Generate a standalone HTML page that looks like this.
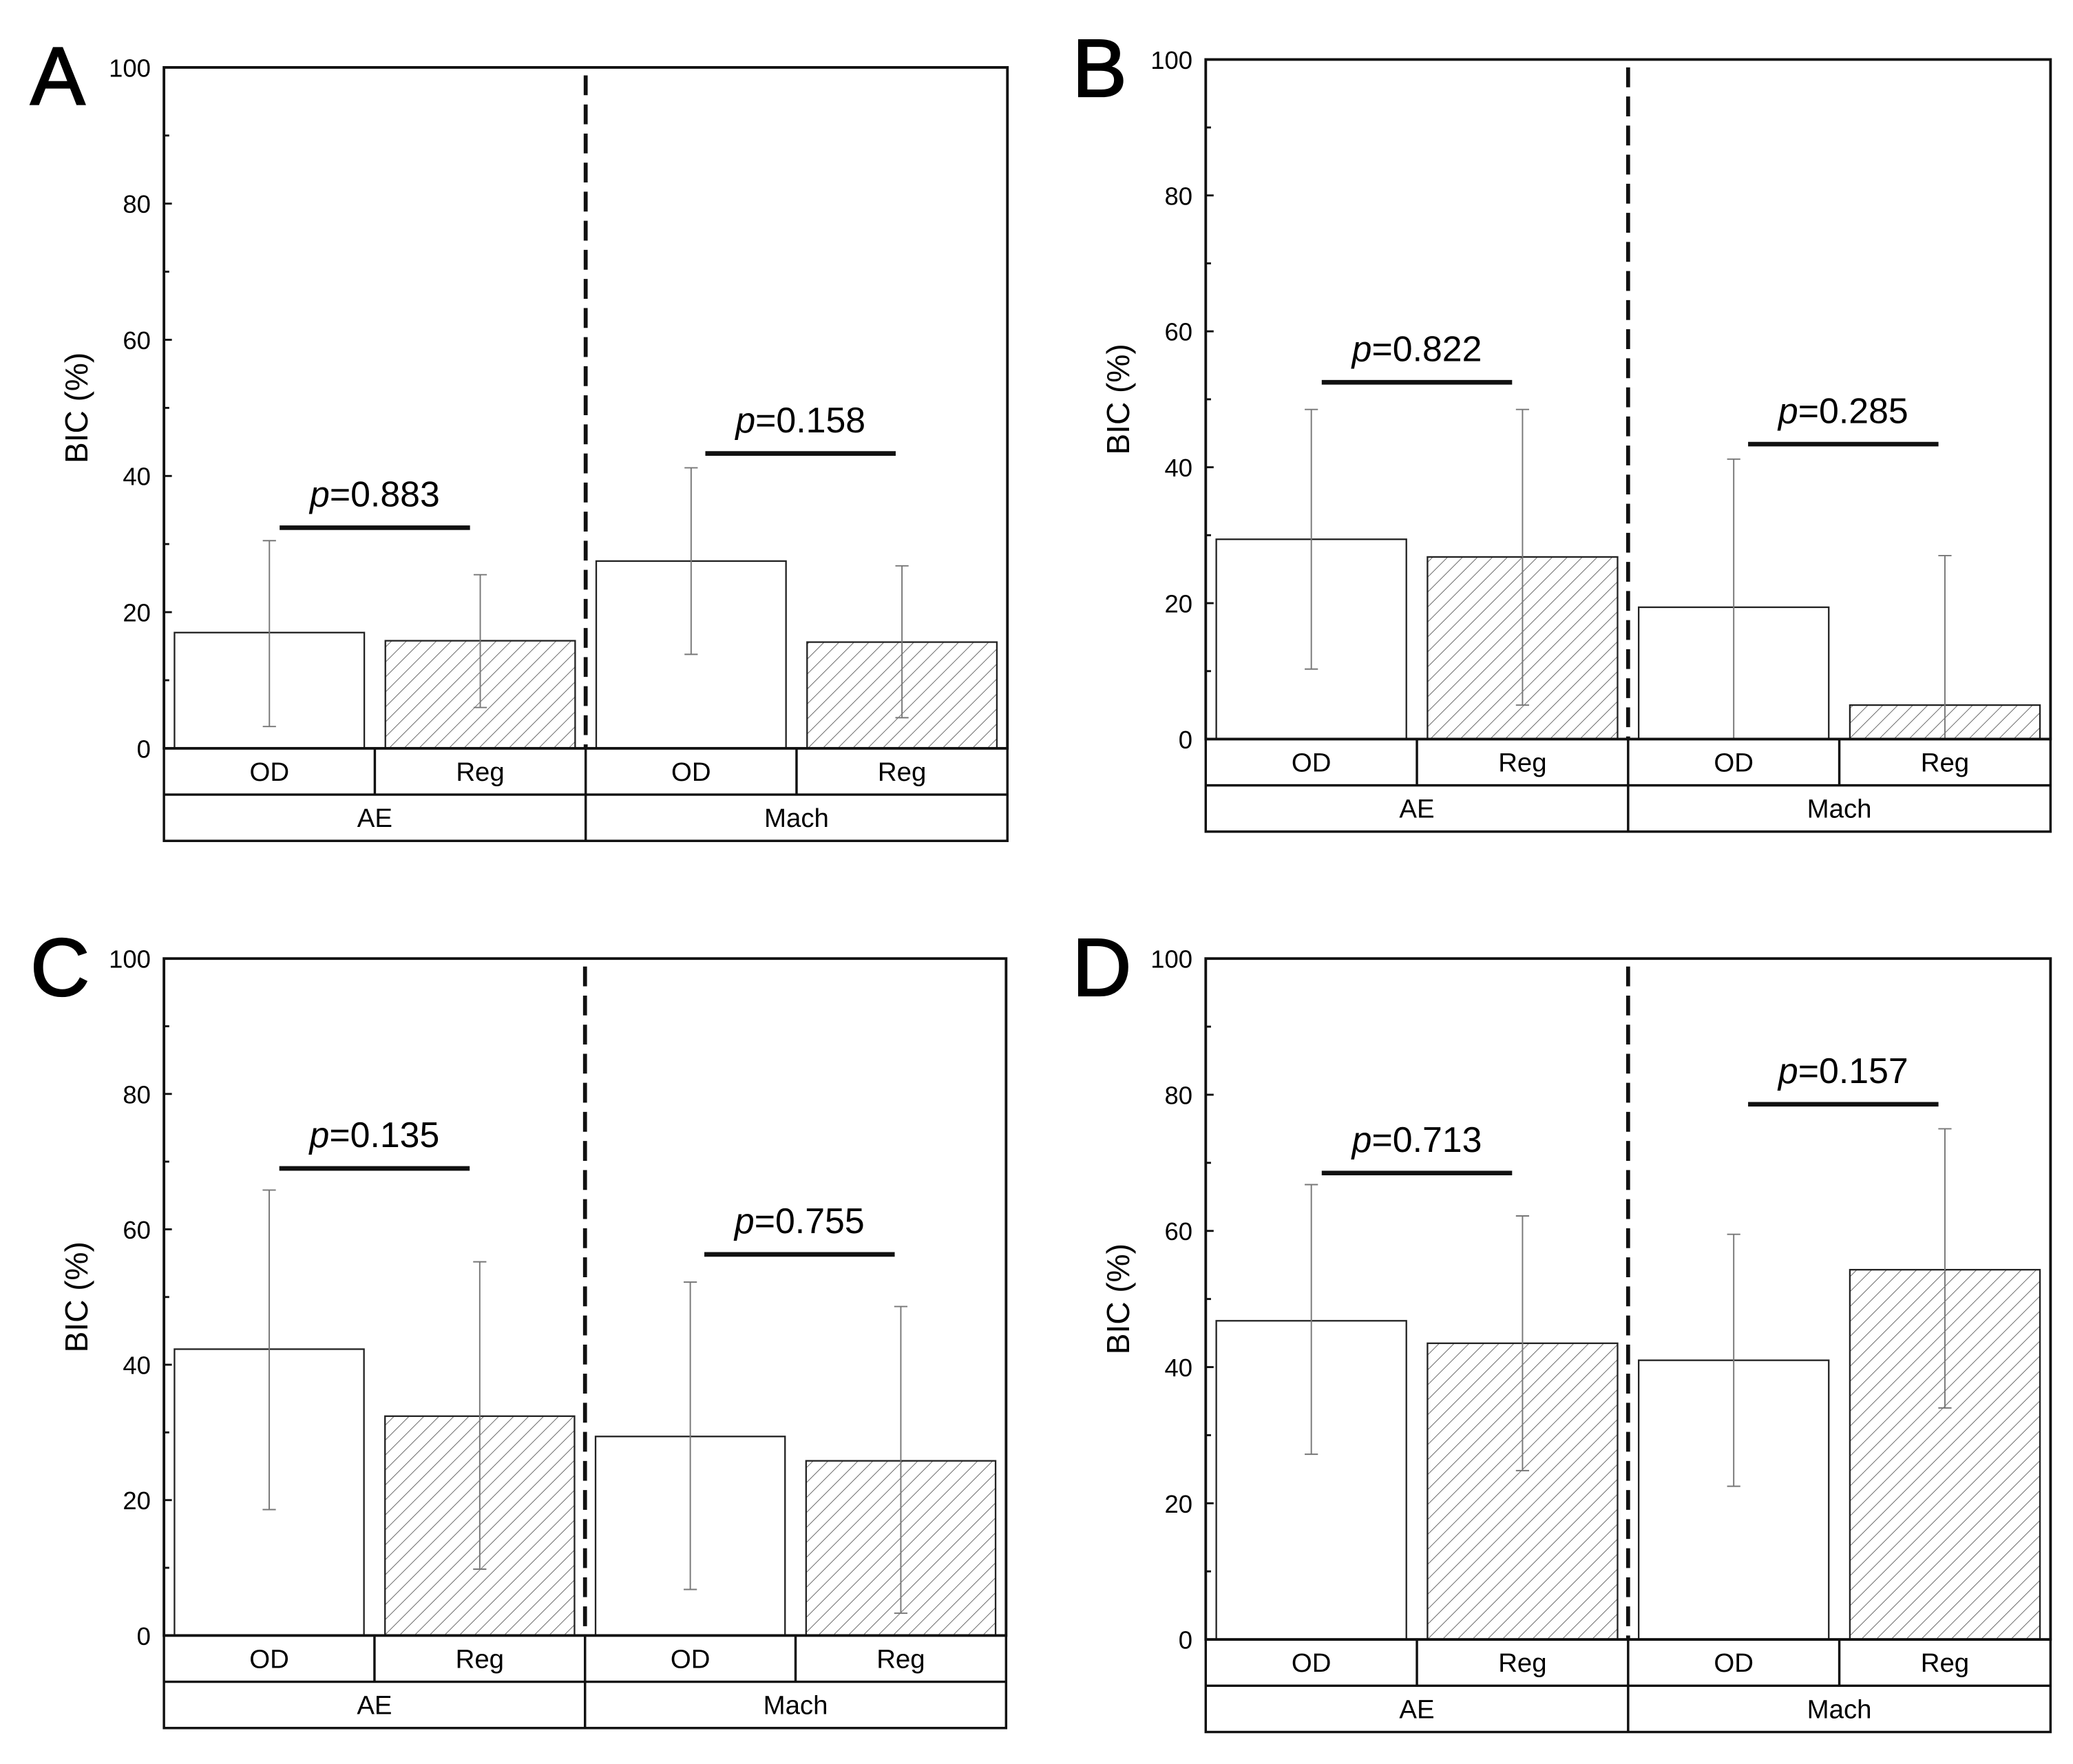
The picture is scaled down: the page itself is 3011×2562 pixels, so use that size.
<!DOCTYPE html>
<html><head><meta charset="utf-8"><style>
html,body{margin:0;padding:0;background:#fff;}
svg{display:block;font-family:"Liberation Sans",Arial,sans-serif;}
</style></head><body>
<svg id="fig" width="3011" height="2562" viewBox="0 0 1568 1334.2" xmlns="http://www.w3.org/2000/svg">
<defs>
<pattern id="hatch" patternUnits="userSpaceOnUse" width="8" height="8" patternTransform="rotate(45)">
<line x1="0" y1="0" x2="0" y2="8" stroke="#666" stroke-width="1"/>
</pattern>
</defs>
</svg>
<script>
// Data per panel
const panelLetters = ["A","B","C","D"];
const categories = ["OD","Reg","OD","Reg"];
const groups = ["AE","Mach"];
const yTicks = [0,20,40,60,80,100];
const meansA = [17.0,15.8,27.5,15.6];
const lowA = [3.2,6.0,13.8,4.5];
const highA = [30.5,25.5,41.2,26.8];
const meansB = [29.4,26.8,19.4,5.0];
const lowB = [10.3,5.0,0,0];
const highB = [48.5,48.5,41.2,27.0];
const meansC = [42.3,32.4,29.4,25.8];
const lowC = [18.6,9.8,6.8,3.3];
const highC = [65.8,55.2,52.2,48.6];
const meansD = [46.8,43.5,41.0,54.3];
const lowD = [27.2,24.8,22.5,34.0];
const highD = [66.8,62.2,59.5,75.0];
const pTexts = [["0.883","0.158"],["0.822","0.285"],["0.135","0.755"],["0.713","0.157"]];
const pLevels = [[32.4,43.3],[52.5,43.4],[69.0,56.3],[68.5,78.6]];

const layout = [
 {L:124,R:762,T:51,Y0:566,r1:601,r2:636},
 {L:912,R:1551,T:45,Y0:559,r1:594,r2:629},
 {L:124,R:761,T:725,Y0:1237,r1:1272,r2:1307},
 {L:912,R:1551,T:725,Y0:1240,r1:1275,r2:1310}
];
const means=[meansA,meansB,meansC,meansD], lows=[lowA,lowB,lowC,lowD], highs=[highA,highB,highC,highD];
const svg=document.getElementById('fig');
const NS="http://www.w3.org/2000/svg";
function mk(tag,attrs,parent){const e=document.createElementNS(NS,tag);for(const k in attrs)e.setAttribute(k,attrs[k]);(parent||svg).appendChild(e);return e;}

layout.forEach((P,pi)=>{
 const g=mk('g',{});
 
 
 const y=v=>P.Y0-(v/100)*(P.Y0-P.T);
 const q=(P.R-P.L)/4;
 const cx=i=>P.L+q*(i+0.5);
 const bw=q*0.9;
 // panel letter
 const lt=mk('text',{x:P.L-101,y:P.T+28,'font-size':62,'stroke':'#000','stroke-width':1.2},g);lt.textContent=panelLetters[pi];
 
 
 // bars
 means[pi].forEach((m,i)=>{
  const r=mk('rect',{x:cx(i)-bw/2,y:y(m),width:bw,height:P.Y0-y(m),fill:i%2?'url(#hatch)':'#fff',stroke:'#222','stroke-width':1.2},g);
  
  
 });
 // error bars
 means[pi].forEach((m,i)=>{
  const eg=mk('g',{stroke:'#777','stroke-width':1},g);
  
  
  mk('line',{x1:cx(i),x2:cx(i),y1:y(lows[pi][i]),y2:y(highs[pi][i])},eg);
  mk('line',{x1:cx(i)-5,x2:cx(i)+5,y1:y(lows[pi][i]),y2:y(lows[pi][i])},eg);
  mk('line',{x1:cx(i)-5,x2:cx(i)+5,y1:y(highs[pi][i]),y2:y(highs[pi][i])},eg);
 });
 // frame
 const fr=mk('rect',{x:P.L,y:P.T,width:P.R-P.L,height:P.Y0-P.T,fill:'none',stroke:'#111','stroke-width':2},g);
 
 
 // divider
 const mid=(P.L+P.R)/2;
 const dv=mk('line',{x1:mid,x2:mid,y1:P.T+6,y2:P.Y0,stroke:'#111','stroke-width':3,'stroke-dasharray':'15 7'},g);
 
 
 // y ticks
 yTicks.forEach(t=>{
  mk('line',{x1:P.L,x2:P.L+6,y1:y(t),y2:y(t),stroke:'#111','stroke-width':1.5},g);
  const tx=mk('text',{x:P.L-10,y:y(t)+7,'font-size':19,'text-anchor':'end'},g);tx.textContent=t;
  
  
  if(t<100) mk('line',{x1:P.L,x2:P.L+4,y1:y(t+10),y2:y(t+10),stroke:'#111','stroke-width':1.5},g);
 });
 const yt=mk('text',{x:0,y:0,'font-size':24,'text-anchor':'middle',transform:`translate(${P.L-58},${(P.T+P.Y0)/2}) rotate(-90)`},g);yt.textContent='BIC (%)';
 
 
 // category table
 const tb=mk('g',{fill:'none',stroke:'#111','stroke-width':1.8},g);
 mk('rect',{x:P.L,y:P.Y0,width:P.R-P.L,height:P.r2-P.Y0},tb);
 mk('line',{x1:P.L,x2:P.R,y1:P.r1,y2:P.r1},tb);
 mk('line',{x1:mid,x2:mid,y1:P.Y0,y2:P.r2},tb);
 mk('line',{x1:P.L+q,x2:P.L+q,y1:P.Y0,y2:P.r1},tb);
 mk('line',{x1:P.L+3*q,x2:P.L+3*q,y1:P.Y0,y2:P.r1},tb);
 categories.forEach((c,i)=>{
  const t=mk('text',{x:cx(i),y:(P.Y0+P.r1)/2+7,'font-size':20,'text-anchor':'middle'},g);t.textContent=c;
  
  
 });
 groups.forEach((gr,k)=>{
  const t=mk('text',{x:P.L+q*(2*k+1),y:(P.r1+P.r2)/2+7,'font-size':20,'text-anchor':'middle'},g);t.textContent=gr;
  
  
 });
 // p-values
 [0,1].forEach(k=>{
  const gc=P.L+q*(2*k+1)+(k?3:0);
  const ly=y(pLevels[pi][k]);
  const pl=mk('line',{x1:gc-72,x2:gc+72,y1:ly,y2:ly,stroke:'#111','stroke-width':3.5},g);
  
  
  const t=mk('text',{x:gc,y:ly-16,'font-size':27,'text-anchor':'middle'},g);
  
  
  const ts=mk('tspan',{'font-style':'italic'},t);ts.textContent='p';
  const ts2=mk('tspan',{},t);ts2.textContent='='+pTexts[pi][k];
 });
});
</script>
</body></html>
